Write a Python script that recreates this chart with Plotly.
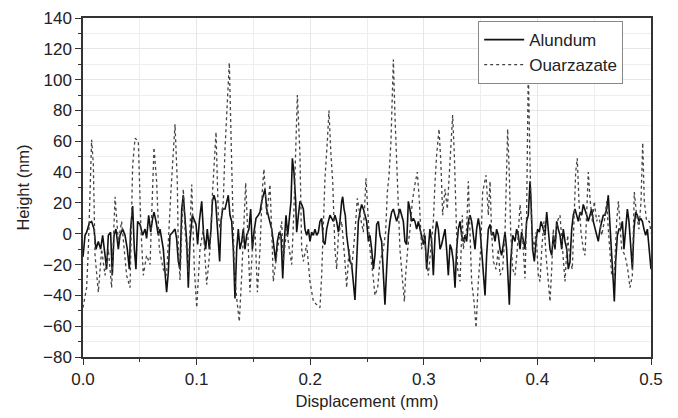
import plotly.graph_objects as go

# Alundum profile (displacement mm, height nm)
alu_x = [0.0000,0.0018,0.0032,0.0056,0.0076,0.0097,0.0114,0.0135,0.0155,0.0173,0.0194,0.0208,0.0223,0.0243,0.0258,0.0273,0.0290,0.0311,0.0326,0.0349,0.0370,0.0390,0.0408,0.0419,0.0437,0.0452,0.0466,0.0481,0.0502,0.0525,0.0546,0.0560,0.0578,0.0596,0.0613,0.0625,0.0643,0.0663,0.0678,0.0692,0.0707,0.0722,0.0736,0.0751,0.0766,0.0789,0.0810,0.0824,0.0839,
         0.0854,0.0869,0.0883,0.0898,0.0913,0.0927,0.0942,0.0962,0.0980,0.0995,0.1009,0.1024,0.1045,0.1062,0.1080,0.1094,0.1112,0.1127,0.1139,0.1153,0.1168,0.1185,0.1203,0.1215,0.1229,0.1250,0.1265,0.1279,0.1294,0.1309,0.1323,0.1338,0.1353,0.1367,0.1382,0.1397,0.1411,0.1426,0.1441,0.1461,0.1476,0.1491,0.1505,0.1523,0.1543,0.1558,0.1573,0.1587,0.1602,0.1617,0.1631,0.1646,0.1661,0.1675,
         0.1696,0.1711,0.1728,0.1743,0.1758,0.1772,0.1787,0.1802,0.1816,0.1831,0.1843,0.1857,0.1872,0.1881,0.1896,0.1910,0.1925,0.1940,0.1954,0.1969,0.1984,0.1998,0.2013,0.2028,0.2042,0.2057,0.2072,0.2086,0.2101,0.2116,0.2130,0.2145,0.2160,0.2174,0.2189,0.2204,0.2218,0.2233,0.2248,0.2262,0.2277,0.2286,0.2298,0.2309,0.2321,0.2336,0.2350,0.2365,0.2380,0.2394,0.2409,0.2424,0.2438,0.2453,0.2468,0.2482,0.2497,0.2512,
         0.2526,0.2541,0.2556,0.2570,0.2585,0.2600,0.2614,0.2629,0.2644,0.2658,0.2673,0.2688,0.2702,0.2717,0.2732,0.2746,0.2761,0.2776,0.2790,0.2805,0.2820,0.2834,0.2849,0.2864,0.2878,0.2893,0.2908,0.2922,0.2937,0.2952,0.2966,0.2981,0.2996,0.3010,0.3025,0.3040,0.3054,0.3069,0.3084,0.3099,0.3113,0.3128,0.3143,0.3157,0.3172,0.3187,0.3201,0.3216,0.3231,0.3245,0.3260,0.3275,0.3289,0.3304,0.3319,0.3333,0.3348,
         0.3363,0.3377,0.3392,0.3407,0.3421,0.3436,0.3451,0.3465,0.3480,0.3495,0.3509,0.3524,0.3539,0.3553,0.3568,0.3583,0.3597,0.3612,0.3627,0.3641,0.3656,0.3671,0.3685,0.3700,0.3715,0.3729,0.3744,0.3753,0.3765,0.3782,0.3803,0.3817,0.3832,0.3847,0.3861,0.3876,0.3891,0.3905,0.3920,0.3935,0.3944,0.3958,0.3973,0.3988,0.4002,0.4017,0.4032,0.4052,0.4067,0.4082,0.4096,0.4111,0.4126,0.4140,0.4155,0.4170,0.4184,
         0.4199,0.4214,0.4228,0.4243,0.4258,0.4272,0.4287,0.4302,0.4316,0.4331,0.4346,0.4360,0.4375,0.4390,0.4404,0.4419,0.4434,0.4448,0.4463,0.4478,0.4492,0.4507,0.4522,0.4536,0.4551,0.4566,0.4580,0.4595,0.4610,0.4624,0.4639,0.4654,0.4668,0.4677,0.4689,0.4704,0.4718,0.4733,0.4748,0.4762,0.4777,0.4792,0.4806,0.4821,0.4836,0.4850,0.4865,0.4880,0.4894,0.4909,0.4924,0.4938,0.4953,0.4968,0.4982,0.5000]
alu_y = [-15,-1,1,7,8,3,-10,-5,-10,-1,-14,-23,-1,1,-27,-1,3,-10,-1,3,-1,-10,-23,3,18,-10,-23,8,6,-1,3,-3,12,1,10,14,8,-1,3,-3,-10,-25,-38,-25,-1,1,3,-3,-18,
         -23,16,25,12,-5,-35,-5,12,8,6,-7,8,21,-1,-10,3,-10,3,21,25,21,3,-18,8,16,16,21,25,12,8,-10,-42,-10,3,-10,-5,3,-10,-1,3,16,-10,1,10,12,14,21,25,29,16,12,8,3,-5,
         -18,-5,1,-1,-29,-5,12,-1,8,21,49,40,21,1,12,21,19,16,3,-1,3,-5,1,-1,3,-1,1,8,10,-5,-7,3,8,12,10,8,12,8,1,8,21,24,16,12,-1,-10,-18,-20,-31,-43,-18,8,14,19,16,12,8,-5,
         -1,-10,-23,-14,6,8,-1,-5,-23,-46,-23,-1,8,14,16,12,8,12,16,12,8,-5,-7,21,16,8,10,8,3,8,3,-1,-7,-1,-23,-10,3,-5,-27,-1,8,3,-10,-7,-1,3,-10,-27,-7,-10,-18,-35,-10,3,8,-1,-5,
         -1,-5,8,12,8,-1,-10,3,10,3,-10,-23,-40,-14,3,6,-1,1,-5,3,-1,-10,-14,-7,1,-10,-35,-46,-18,-1,-5,3,-1,-10,1,-5,-10,8,12,34,21,-10,-18,-5,3,1,8,3,-1,14,3,-10,-14,-1,-10,8,3,
         -1,-10,3,-5,-10,-23,-18,3,12,16,12,8,14,12,19,16,12,8,12,16,8,3,-1,-5,3,8,12,12,16,25,1,-14,-31,-44,-18,-1,3,3,8,-10,3,16,8,-10,-23,3,14,12,8,10,8,3,-1,3,-10,-23]

# Ouarzazate profile (displacement mm, height nm)
ouz_x = [0.0000,0.0032,0.0047,0.0062,0.0076,0.0091,0.0106,0.0135,0.0164,0.0194,0.0223,0.0252,0.0282,0.0311,0.0340,0.0384,0.0414,0.0437,0.0458,0.0487,0.0510,0.0531,0.0560,0.0590,0.0625,0.0648,0.0672,0.0707,0.0736,0.0772,0.0810,0.0830,
         0.0839,0.0854,0.0883,0.0898,0.0927,0.0957,0.0980,0.1001,0.1030,0.1059,0.1089,0.1118,0.1139,0.1171,0.1191,0.1206,0.1235,0.1250,0.1273,0.1288,0.1309,0.1332,0.1353,0.1376,0.1397,0.1420,0.1432,0.1450,0.1470,0.1491,0.1514,0.1535,0.1558,0.1579,0.1593,0.1617,0.1646,0.1667,
         0.1675,0.1705,0.1749,0.1763,0.1793,0.1816,0.1837,0.1857,0.1875,0.1887,0.1910,0.1925,0.1940,0.1969,0.1998,0.2028,0.2057,0.2086,0.2101,0.2116,0.2130,0.2151,0.2165,0.2183,0.2198,0.2218,0.2233,0.2248,0.2277,0.2306,0.2321,0.2342,0.2365,0.2394,0.2415,0.2438,0.2468,0.2491,0.2512,
         0.2526,0.2556,0.2570,0.2594,0.2614,0.2644,0.2664,0.2679,0.2694,0.2711,0.2723,0.2732,0.2746,0.2761,0.2776,0.2790,0.2811,0.2829,0.2840,0.2858,0.2879,0.2899,0.2922,0.2943,0.2961,0.2981,0.3002,0.3019,0.3040,0.3063,0.3084,0.3099,0.3113,0.3134,0.3151,0.3166,0.3187,0.3207,0.3231,0.3254,0.3269,0.3281,0.3298,0.3319,0.3339,
         0.3348,0.3377,0.3392,0.3407,0.3421,0.3442,0.3460,0.3480,0.3501,0.3518,0.3548,0.3568,0.3583,0.3597,0.3612,0.3636,0.3656,0.3671,0.3694,0.3715,0.3729,0.3738,0.3753,0.3765,0.3782,0.3803,0.3823,0.3847,0.3861,0.3876,0.3891,0.3905,0.3914,0.3920,0.3935,0.3950,0.3970,0.3988,0.4008,0.4023,0.4038,0.4058,0.4076,0.4096,0.4111,0.4126,0.4140,0.4155,0.4175,
         0.4199,0.4219,0.4243,0.4266,0.4287,0.4307,0.4325,0.4337,0.4351,0.4366,0.4384,0.4404,0.4419,0.4434,0.4448,0.4463,0.4484,0.4501,0.4522,0.4542,0.4566,0.4589,0.4610,0.4624,0.4639,0.4654,0.4677,0.4698,0.4713,0.4727,0.4742,0.4771,0.4795,0.4815,0.4836,0.4853,0.4874,0.4894,0.4912,0.4927,0.4941,0.4962,0.4985,0.5000]
ouz_y = [-48,-35,-10,34,61,45,-14,-38,-10,-27,-10,-35,24,-5,8,-27,-35,44,62,60,3,-27,-14,-20,56,34,-10,-23,-27,25,71,34,
         -10,-30,29,3,-25,32,-23,-48,-10,3,-33,-10,25,66,12,3,21,55,88,111,45,-23,-42,-57,-27,12,33,1,-38,-10,3,-38,-10,29,42,12,32,-10,
         -31,-14,8,-18,3,-10,-20,16,55,90,51,-10,-18,-7,-31,-44,-46,-48,-27,8,36,60,80,51,34,-10,-23,-1,8,-18,-35,-10,-23,1,23,12,1,36,12,
         -10,-29,-40,-35,-18,-10,1,27,38,60,90,113,77,45,21,-10,-29,-44,-27,-10,3,21,32,40,21,-10,3,-14,-27,-10,8,34,51,68,45,12,29,16,47,77,51,12,-23,-31,12,
         -10,3,34,1,-31,-44,-61,-31,-10,27,38,12,34,1,-18,-23,-10,-27,-23,1,51,68,38,1,-23,-27,-10,19,8,-10,-29,12,77,107,45,3,-10,1,-27,-31,-10,8,-14,-35,-44,-23,3,-10,8,
         12,-10,-31,-1,-18,-23,21,40,49,21,1,-10,-14,12,40,23,8,21,8,12,-1,8,21,3,-14,-27,-27,8,21,3,-10,-14,-23,-35,-27,27,12,3,21,59,21,8,8,1]

x_ticks = [0.0, 0.1, 0.2, 0.3, 0.4, 0.5]
y_ticks = [-80, -60, -40, -20, 0, 20, 40, 60, 80, 100, 120, 140]

FONT = "Liberation Sans, Arial, sans-serif"

fig = go.Figure()
fig.add_trace(go.Scatter(x=alu_x, y=alu_y, mode="lines", name="Alundum",
                         line=dict(color="#111111", width=1.6)))
fig.add_trace(go.Scatter(x=ouz_x, y=ouz_y, mode="lines", name="Ouarzazate",
                         line=dict(color="#444444", width=1.3, dash="dot")))

axis_common = dict(
    showline=True, linecolor="#333333", linewidth=1.5, mirror=True,
    ticks="outside", ticklen=6, tickwidth=1.2, tickcolor="#333333",
    showgrid=True, gridcolor="#e6e6e6", gridwidth=1, zeroline=False,
    automargin=False,
    tickfont=dict(family=FONT, size=17, color="#222222"),
)

fig.update_xaxes(**axis_common, range=[0, 0.5], tickvals=x_ticks,
                 ticktext=[f"{v:.1f}" for v in x_ticks],
                 minor=dict(dtick=0.05, tick0=0, ticks="outside", ticklen=3, tickcolor="#333333",
                            showgrid=True, gridcolor="#eeeeee"),
                 title=dict(text="Displacement (mm)", standoff=7,
                            font=dict(family=FONT, size=16.5, color="#222222")))
fig.update_yaxes(**axis_common, range=[-80, 140], tickvals=y_ticks,
                 minor=dict(dtick=10, tick0=0, ticks="outside", ticklen=3, tickcolor="#333333",
                            showgrid=True, gridcolor="#eeeeee"),
                 title=dict(text="Height (nm)", standoff=9,
                            font=dict(family=FONT, size=16.5, color="#222222")))

fig.update_layout(
    width=678, height=418,
    margin=dict(l=83, r=27, t=18, b=61),
    paper_bgcolor="white", plot_bgcolor="white",
    showlegend=True,
    legend=dict(x=0.951, y=0.991, xanchor="right", yanchor="top",
                bgcolor="white", bordercolor="#888888", borderwidth=1,
                font=dict(family=FONT, size=17, color="#222222"),
                tracegroupgap=0, itemwidth=40),
)

fig.write_html("out.html")
